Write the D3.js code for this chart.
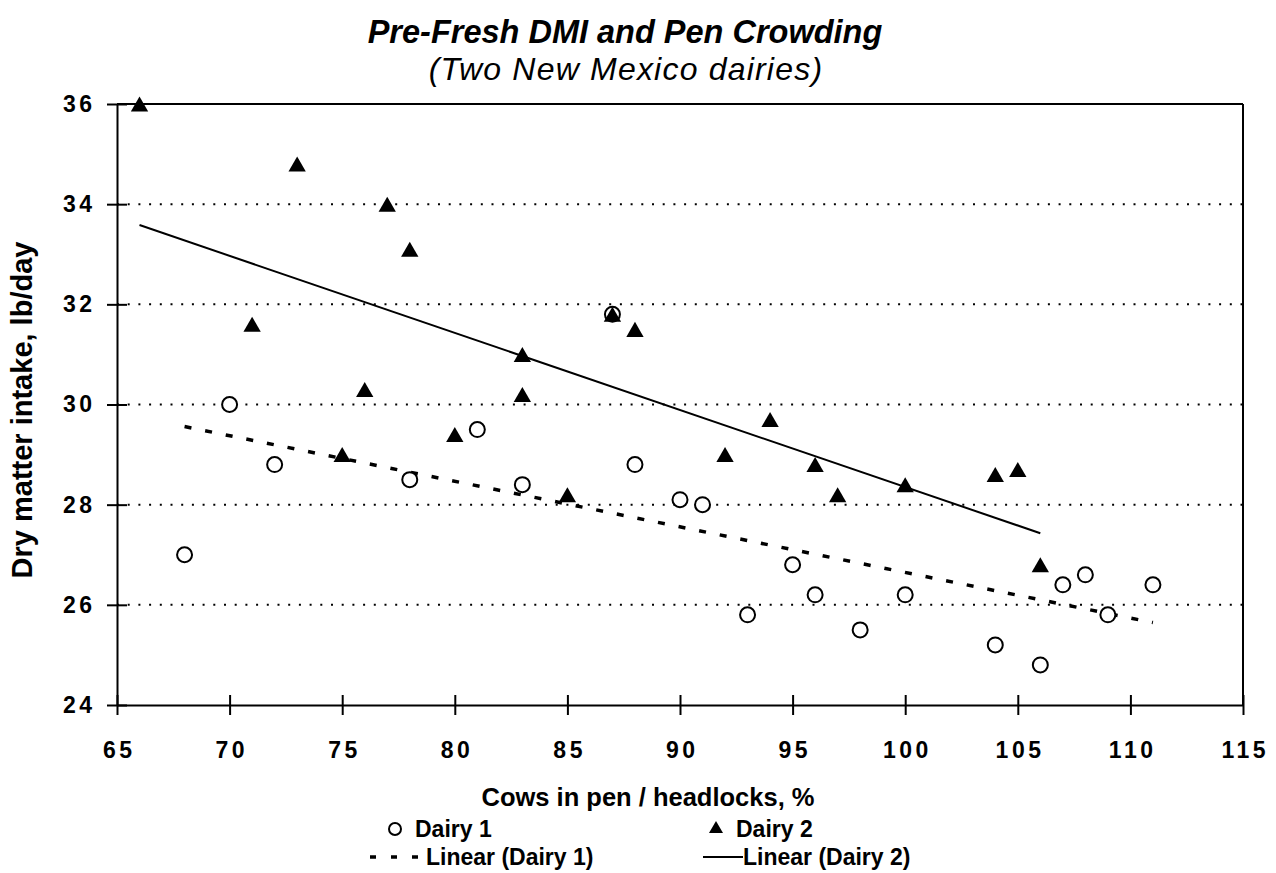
<!DOCTYPE html>
<html>
<head>
<meta charset="utf-8">
<script src="https://cdn.jsdelivr.net/npm/d3@7"></script>
<style>
    body { margin: 0; background: #fff; }
    svg text { font-family: "Liberation Sans", Arial, sans-serif; fill: #000; }
</style>
</head>
<body>
<svg id="chart" width="1276" height="873"></svg>
<script>
// Dairy 1 (open circles)
var dairy1X = [68, 70, 72, 78, 81, 83, 87, 88, 90, 91, 93, 95, 96, 98, 100, 104, 106, 107, 108, 109, 111],
    dairy1Y = [27.0, 30.0, 28.8, 28.5, 29.5, 28.4, 31.8, 28.8, 28.1, 28.0, 25.8, 26.8, 26.2, 25.5, 26.2, 25.2, 24.8, 26.4, 26.6, 25.8, 26.4];

// Dairy 2 (filled triangles)
var dairy2X = [66, 71, 73, 75, 76, 77, 78, 80, 83, 83, 85, 87, 88, 92, 94, 96, 97, 100, 104, 105, 106],
    dairy2Y = [36.0, 31.6, 34.8, 29.0, 30.3, 34.0, 33.1, 29.4, 31.0, 30.2, 28.2, 31.8, 31.5, 29.0, 29.7, 28.8, 28.2, 28.4, 28.6, 28.7, 26.8];

var xTicks = [65, 70, 75, 80, 85, 90, 95, 100, 105, 110, 115],
    yTicks = [24, 26, 28, 30, 32, 34, 36],
    gridValues = [26, 28, 30, 32, 34];

var svg = d3.select("#chart"),
    plotL = 117, plotR = 1243, plotT = 104, plotB = 705,
    x = d3.scaleLinear().domain([65, 115]).range([plotL, plotR]),
    y = d3.scaleLinear().domain([24, 36]).range([plotB, plotT]);

function zip(xs, ys) {
    return xs.map(function(v, i) { return {x: v, y: ys[i]}; });
}
// least squares fit, like the spreadsheet "Linear" trendline
function linearFit(pts) {
    var mx = d3.mean(pts, function(d) { return d.x; }),
        my = d3.mean(pts, function(d) { return d.y; }),
        sxy = d3.sum(pts, function(d) { return (d.x - mx) * (d.y - my); }),
        sxx = d3.sum(pts, function(d) { return (d.x - mx) * (d.x - mx); }),
        b = sxy / sxx,
        ext = d3.extent(pts, function(d) { return d.x; });
    return ext.map(function(v) { return {x: v, y: my + b * (v - mx)}; });
}

var d1 = zip(dairy1X, dairy1Y),
    d2 = zip(dairy2X, dairy2Y);

// titles
svg.append("text")
    .attr("x", 625).attr("y", 43)
    .attr("text-anchor", "middle")
    .style("font-size", "32.5px").style("font-weight", "bold").style("font-style", "italic")
    .text("Pre-Fresh DMI and Pen Crowding");
svg.append("text")
    .attr("x", 626).attr("y", 80)
    .attr("text-anchor", "middle")
    .style("font-size", "32px").style("font-style", "italic")
    .style("letter-spacing", "1.2px")
    .text("(Two New Mexico dairies)");

// dotted grid
svg.append("g").selectAll("line")
    .data(gridValues)
    .enter().append("line")
        .attr("x1", plotL).attr("x2", plotR)
        .attr("y1", function(d) { return y(d); })
        .attr("y2", function(d) { return y(d); })
        .attr("stroke", "#000")
        .attr("stroke-width", 2)
        .attr("stroke-dasharray", "2 8.7");

// frame top + right
svg.append("line")
    .attr("x1", plotL).attr("x2", plotR).attr("y1", plotT).attr("y2", plotT)
    .attr("stroke", "#000").attr("stroke-width", 2);
svg.append("line")
    .attr("x1", plotR).attr("x2", plotR).attr("y1", plotT).attr("y2", plotB)
    .attr("stroke", "#000").attr("stroke-width", 2);

// axes
var xAxis = svg.append("g")
    .attr("transform", "translate(0," + plotB + ")")
    .call(d3.axisBottom(x).tickValues(xTicks).tickSize(10).tickSizeOuter(0).tickPadding(27));
xAxis.select(".domain").attr("stroke-width", 2);
xAxis.selectAll(".tick line").attr("y1", -10).attr("stroke-width", 2);
xAxis.selectAll(".tick text")
    .attr("dx", "1.75px")
    .style("font-size", "23px").style("font-weight", "bold")
    .style("letter-spacing", "3.5px")
    .style("font-family", "'Liberation Sans', Arial, sans-serif");

var yAxis = svg.append("g")
    .attr("transform", "translate(" + plotL + ",0)")
    .call(d3.axisLeft(y).tickValues(yTicks).tickSize(10).tickSizeOuter(0).tickPadding(15));
yAxis.select(".domain").attr("stroke-width", 2);
yAxis.selectAll(".tick line").attr("x1", 10).attr("stroke-width", 2);
yAxis.selectAll(".tick text")
    .attr("dx", "3.5px")
    .style("font-size", "23px").style("font-weight", "bold")
    .style("letter-spacing", "3.5px")
    .style("font-family", "'Liberation Sans', Arial, sans-serif");

// axis titles
svg.append("text")
    .attr("x", 648).attr("y", 806)
    .attr("text-anchor", "middle")
    .style("font-size", "25.5px").style("font-weight", "bold")
    .text("Cows in pen / headlocks, %");
svg.append("text")
    .attr("transform", "translate(32,410) rotate(-90)")
    .attr("text-anchor", "middle")
    .style("font-size", "29px").style("font-weight", "bold")
    .text("Dry matter intake, lb/day");

// trend lines
var line = d3.line()
    .x(function(d) { return x(d.x); })
    .y(function(d) { return y(d.y); });

svg.append("path")
    .datum(linearFit(d1))
    .attr("fill", "none")
    .attr("stroke", "#000")
    .attr("stroke-width", 3.5)
    .attr("stroke-dasharray", "7 14")
    .attr("d", line);
svg.append("path")
    .datum(linearFit(d2))
    .attr("fill", "none")
    .attr("stroke", "#000")
    .attr("stroke-width", 2)
    .attr("d", line);

// markers
svg.append("g").selectAll("circle")
    .data(d1)
    .enter().append("circle")
        .attr("cx", function(d) { return x(d.x); })
        .attr("cy", function(d) { return y(d.y); })
        .attr("r", 7.5)
        .attr("fill", "#fff")
        .attr("stroke", "#000")
        .attr("stroke-width", 2);

var tri = d3.symbol().type(d3.symbolTriangle).size(130);
svg.append("g").selectAll("path")
    .data(d2)
    .enter().append("path")
        .attr("transform", function(d) { return "translate(" + x(d.x) + "," + (y(d.y) + 2.5) + ")"; })
        .attr("d", tri)
        .attr("fill", "#000");

// legend
var legend = svg.append("g");
legend.append("circle")
    .attr("cx", 395).attr("cy", 829).attr("r", 6)
    .attr("fill", "#fff").attr("stroke", "#000").attr("stroke-width", 2);
legend.append("text")
    .attr("x", 415).attr("y", 837)
    .style("font-size", "23px").style("font-weight", "bold")
    .text("Dairy 1");
legend.append("line")
    .attr("x1", 370).attr("x2", 422).attr("y1", 857).attr("y2", 857)
    .attr("stroke", "#000").attr("stroke-width", 3.5)
    .attr("stroke-dasharray", "6 15");
legend.append("text")
    .attr("x", 426).attr("y", 865)
    .style("font-size", "23px").style("font-weight", "bold")
    .text("Linear (Dairy 1)");

legend.append("path")
    .attr("transform", "translate(716,829)")
    .attr("d", d3.symbol().type(d3.symbolTriangle).size(85))
    .attr("fill", "#000");
legend.append("text")
    .attr("x", 736).attr("y", 837)
    .style("font-size", "23px").style("font-weight", "bold")
    .text("Dairy 2");
legend.append("line")
    .attr("x1", 703).attr("x2", 743).attr("y1", 857).attr("y2", 857)
    .attr("stroke", "#000").attr("stroke-width", 2);
legend.append("text")
    .attr("x", 743).attr("y", 865)
    .style("font-size", "23px").style("font-weight", "bold")
    .text("Linear (Dairy 2)");
</script>
</body>
</html>
